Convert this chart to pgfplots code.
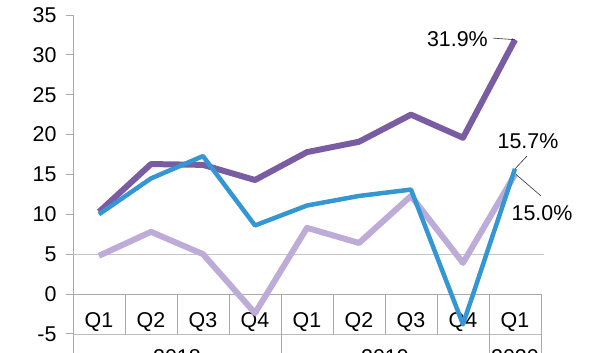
\documentclass[border=0pt]{standalone}
\usepackage{pgfplots}
\pgfplotsset{compat=1.18}
\usepackage{fontspec}
\setmainfont{Liberation Sans}
\definecolor{darkp}{RGB}{122,92,162}
\definecolor{lightp}{RGB}{190,172,216}
\definecolor{blueL}{RGB}{52,150,210}
\definecolor{gl}{RGB}{170,170,170}
\newcommand{\cf}{\fontsize{21.5}{24}\selectfont}
\begin{document}
\begin{tikzpicture}
\begin{axis}[
  at={(0,0)}, anchor=south west,
  scale only axis, width=468bp, height=338bp,
  xmin=-0.5, xmax=8.5, ymin=-7.4, ymax=35,
  axis x line=none, axis y line=left,
  y axis line style={-, draw=gl, line width=0.8pt},
  ytick={-5,0,5,10,15,20,25,30,35},
  yticklabels={-5,0,5,10,15,20,25,30,35},
  ytick style={draw=gl, line width=0.8pt},
  major tick length=7bp, tick align=outside,
  yticklabel style={font=\cf, xshift=-6bp},
  clip=false,
]
% grid line at 5
\draw[gl!70, line width=0.6pt] (axis cs:-0.5,5) -- (axis cs:8.55,5);
% category table
\draw[gl, line width=0.8pt] (axis cs:-0.5,0) -- (axis cs:8.5,0);
\draw[gl!80, line width=0.6pt] (axis cs:-0.5,-5) -- (axis cs:8.5,-5);
\draw[gl, line width=0.8pt] (axis cs:0.5,0) -- (axis cs:0.5,-5);
\draw[gl, line width=0.8pt] (axis cs:1.5,0) -- (axis cs:1.5,-5);
\draw[gl, line width=0.8pt] (axis cs:2.5,0) -- (axis cs:2.5,-5);
\draw[gl, line width=0.8pt] (axis cs:3.5,0) -- (axis cs:3.5,-7.4);
\draw[gl, line width=0.8pt] (axis cs:4.5,0) -- (axis cs:4.5,-5);
\draw[gl, line width=0.8pt] (axis cs:5.5,0) -- (axis cs:5.5,-5);
\draw[gl, line width=0.8pt] (axis cs:6.5,0) -- (axis cs:6.5,-5);
\draw[gl, line width=0.8pt] (axis cs:7.5,0) -- (axis cs:7.5,-7.4);
\draw[gl, line width=0.8pt] (axis cs:8.5,0) -- (axis cs:8.5,-7.4);
\node[font=\cf, anchor=base, inner sep=0pt] at (axis cs:0,-4.15) {Q1};
\node[font=\cf, anchor=base, inner sep=0pt] at (axis cs:1,-4.15) {Q2};
\node[font=\cf, anchor=base, inner sep=0pt] at (axis cs:2,-4.15) {Q3};
\node[font=\cf, anchor=base, inner sep=0pt] at (axis cs:3,-4.15) {Q4};
\node[font=\cf, anchor=base, inner sep=0pt] at (axis cs:4,-4.15) {Q1};
\node[font=\cf, anchor=base, inner sep=0pt] at (axis cs:5,-4.15) {Q2};
\node[font=\cf, anchor=base, inner sep=0pt] at (axis cs:6,-4.15) {Q3};
\node[font=\cf, anchor=base, inner sep=0pt] at (axis cs:7,-4.15) {Q4};
\node[font=\cf, anchor=base, inner sep=0pt] at (axis cs:8,-4.15) {Q1};
\node[font=\cf, anchor=north, inner sep=0pt] at (axis cs:1.5,-6.95) {2018};
\node[font=\cf, anchor=north, inner sep=0pt] at (axis cs:5.5,-6.95) {2019};
\node[font=\cf, anchor=north, inner sep=0pt] at (axis cs:8,-6.95) {2020};

\addplot[lightp, line width=6bp, line join=round] coordinates {
 (0,4.8) (1,7.8) (2,5.0) (3,-2.4) (4,8.3) (5,6.4) (6,12.3) (7,3.9) (8,15.0)};
\addplot[darkp, line width=6bp, line join=round] coordinates {
 (0,10.3) (1,16.3) (2,16.2) (3,14.3) (4,17.8) (5,19.1) (6,22.5) (7,19.6) (8,31.9)};
\addplot[blueL, line width=4.5bp, line join=round] coordinates {
 (0,10.0) (1,14.5) (2,17.3) (3,8.6) (4,11.1) (5,12.3) (6,13.1) (7,-3.8) (8,15.7)};

% annotations
\draw[black!80, line width=0.6pt] (axis cs:7.58,32.1) -- (axis cs:8,31.9);
\node[font=\cf, anchor=east, inner sep=0pt] at (axis cs:7.48,32.0) {31.9\%};
\draw[black!80, line width=0.6pt] (axis cs:8.23,17.3) -- (axis cs:8,15.7);
\node[font=\cf, inner sep=0pt] at (axis cs:8.25,19.2) {15.7\%};
\draw[black!80, line width=0.6pt] (axis cs:8.5,12.3) -- (axis cs:8.02,15.0);
\node[font=\cf, inner sep=0pt] at (axis cs:8.52,10.2) {15.0\%};
\end{axis}
\pgfresetboundingbox
\path[use as bounding box] (-73bp,0bp) rectangle (527bp,353bp);
\end{tikzpicture}
\end{document}
